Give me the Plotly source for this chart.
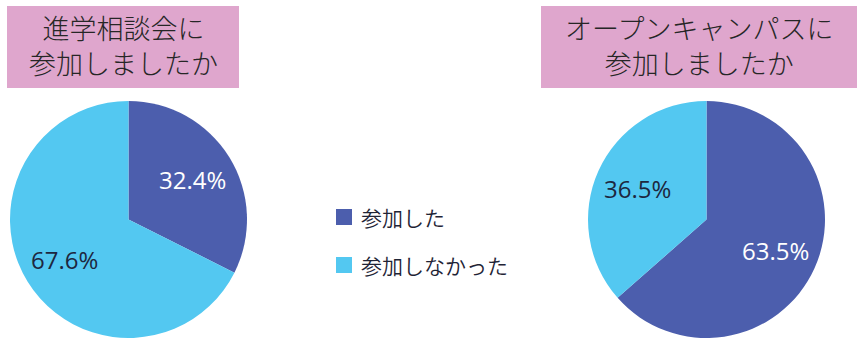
import math
import plotly.graph_objects as go

# --- Data ---
labels = ["参加した", "参加しなかった"]
consult_values = [32.4, 67.6]      # 進学相談会
campus_values = [63.5, 36.5]       # オープンキャンパス
titles = ["進学相談会に<br>参加しましたか", "オープンキャンパスに<br>参加しましたか"]

colors = ["#4C5EAD", "#53C8F1"]
text_colors = ["white", "#1D2740"]
W, H = 857, 338
FONT = "Open Sans, Noto Sans CJK JP, sans-serif"
JP_FONT = "Noto Sans CJK JP, sans-serif"

# pie placement (pixels)
pies = [
    dict(values=consult_values, cx=128.5, r=119.5),
    dict(values=campus_values, cx=706.5, r=119.5),
]
CY = 219.5


def pie(values, cx, r):
    return go.Pie(
        labels=labels,
        values=values,
        sort=False,
        direction="clockwise",
        rotation=0,
        marker=dict(colors=colors, line=dict(width=0)),
        textinfo="none",
        showlegend=False,
        hoverinfo="label+value",
        domain=dict(x=[(cx - r) / W, (cx + r) / W], y=[0, 2 * (H - CY) / H]),
    )


fig = go.Figure()
for p in pies:
    fig.add_trace(pie(p["values"], p["cx"], p["r"]))
    # percentage labels along slice mid-angle
    total = sum(p["values"])
    start = 0
    for v, tc in zip(p["values"], text_colors):
        mid = (start + v / 2) / total * 2 * math.pi
        start += v
        rr = 0.63 * p["r"]
        x = p["cx"] + rr * math.sin(mid)
        y = CY - rr * math.cos(mid)
        fig.add_annotation(xref="paper", yref="paper", x=x / W, y=1 - y / H,
                           text=f"{v:.1f}%", showarrow=False,
                           xanchor="center", yanchor="middle",
                           font=dict(family=FONT, size=24, color=tc))

# title boxes
boxes = [(7, 239), (541, 857)]
for (x0, x1), title in zip(boxes, titles):
    fig.add_shape(type="rect", xref="paper", yref="paper",
                  x0=x0 / W, x1=x1 / W, y0=1 - 88 / H, y1=1 - 6 / H,
                  fillcolor="#DFA6CD", line=dict(width=0), layer="below")
    fig.add_annotation(xref="paper", yref="paper",
                       x=(x0 + x1) / 2 / W, y=1 - 45 / H,
                       text=title, showarrow=False,
                       xanchor="center", yanchor="middle",
                       font=dict(family=JP_FONT, size=27, color="#262626",
                                 weight=300))

# legend
legend_y = [217, 265]
for lab, col, yy in zip(labels, colors, legend_y):
    fig.add_shape(type="rect", xref="paper", yref="paper",
                  x0=336 / W, x1=352 / W,
                  y0=1 - (yy + 8) / H, y1=1 - (yy - 8) / H,
                  fillcolor=col, line=dict(width=0))
    fig.add_annotation(xref="paper", yref="paper",
                       x=359 / W, y=1 - yy / H, text=lab, showarrow=False,
                       xanchor="left", yanchor="middle",
                       font=dict(family=JP_FONT, size=21, color="#1F2436",
                                 weight=350))

fig.update_layout(
    width=W, height=H,
    margin=dict(l=0, r=0, t=0, b=0),
    paper_bgcolor="white",
    plot_bgcolor="white",
)

fig.write_html("out.html", config={"displayModeBar": False},
               post_script="document.body.style.margin='0';")
